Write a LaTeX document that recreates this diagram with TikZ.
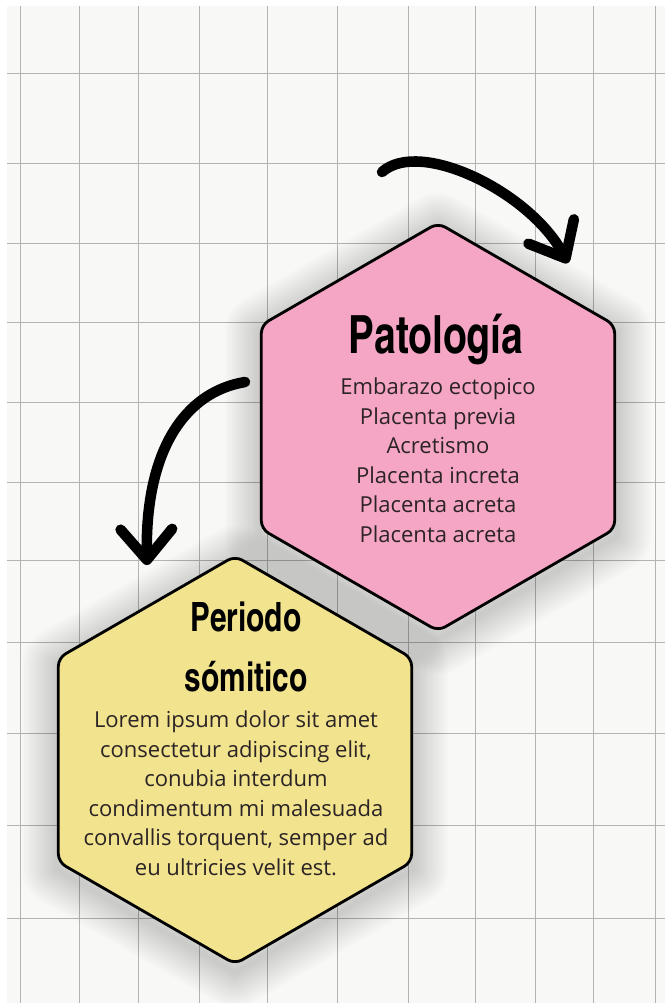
\documentclass[tikz,border=0pt]{standalone}
\usepackage{fontspec}
\setmainfont{Open Sans}
\newfontfamily\titlefont{texgyreheroscn-bold.otf}[FakeStretch=0.9]
\usetikzlibrary{shapes.geometric,arrows.meta,backgrounds}

\definecolor{paper}{HTML}{F8F8F7}
\definecolor{gridline}{HTML}{B4B4B4}
\definecolor{pinkhex}{HTML}{F5A6C5}
\definecolor{yellowhex}{HTML}{F2E48E}
\definecolor{bodytext}{HTML}{2B2325}

\tikzset{
  hexa/.style={regular polygon,regular polygon sides=6,shape border rotate=30,
    minimum size=12.24cm,inner sep=0pt,draw=black,line width=2.4pt,rounded corners=7pt},
  halo/.style={black,opacity=0.011,line join=round},
  brush/.style={line width=9pt,line cap=round,-{Straight Barb[round,length=26pt,width=44pt]}},
  bodytxt/.style={font=\fontsize{18.8}{25.1}\selectfont,text=bodytext,align=center,inner sep=0pt},
  ttl/.style={inner sep=0pt,align=center}
}

% soft shadow round a hexagon node
\newcommand\hexhalo[1]{%
  \foreach \w in {4,8,...,60}
    \draw[halo,line width=\w pt] (#1.corner 1) -- (#1.corner 2) -- (#1.corner 3)
      -- (#1.corner 4) -- (#1.corner 5) -- (#1.corner 6) -- cycle;}

\begin{document}
\begin{tikzpicture}[x=0.03cm,y=-0.03cm]
  \useasboundingbox (0,0) rectangle (665,1003);

  % squared paper
  \begin{pgfonlayer}{background}
    \fill[white] (0,0) rectangle (665,1003);
    \fill[paper] (7,6) rectangle (665,1003);
    \foreach \gx in {20,79,138,199,267,337,408,475,535,593,655}
      \draw[gridline,line width=0.6pt] (\gx,6) -- (\gx,1003);
    \foreach \gy in {73,163,243,322,402,482,560,642,733,825,918}
      \draw[gridline,line width=0.6pt] (7,\gy) -- (665,\gy);
  \end{pgfonlayer}

  \node[hexa,fill=pinkhex] (pat) at (438,427) {};
  \node[hexa,fill=yellowhex] (per) at (235,760) {};

  \begin{pgfonlayer}{background}
    \begin{scope}[transform canvas={yshift=-0.2cm}]
      \hexhalo{pat}
      \hexhalo{per}
    \end{scope}
  \end{pgfonlayer}

  \node[ttl,font=\titlefont\fontsize{45}{54}\selectfont,anchor=base] (patt) at (436,353) {Patología};
  \node[bodytxt,anchor=north] (patl) at (438,378) {Embarazo ectopico\\Placenta previa\\Acretismo\\Placenta increta\\Placenta acreta\\Placenta acreta};

  \node[ttl,font=\titlefont\fontsize{34.5}{51.2}\selectfont,anchor=north] (pert) at (246,602) {Periodo\\sómitico};
  \node[bodytxt,anchor=north] (perl) at (236,711) {Lorem ipsum dolor sit amet\\consectetur adipiscing elit,\\conubia interdum\\condimentum mi malesuada\\convallis torquent, semper ad\\eu ultricies velit est.};

  % arrows
  \coordinate (a1s) at (382,172);
  \coordinate (a1e) at (568,263);
  \coordinate (a2s) at (245,382);
  \coordinate (a2e) at (147,565);
  \draw[brush] (a1s) .. controls (420,138) and (530,192) .. (a1e);
  \draw[brush] (a2s) .. controls (185,392) and (145,450) .. (a2e);
\end{tikzpicture}
\end{document}
